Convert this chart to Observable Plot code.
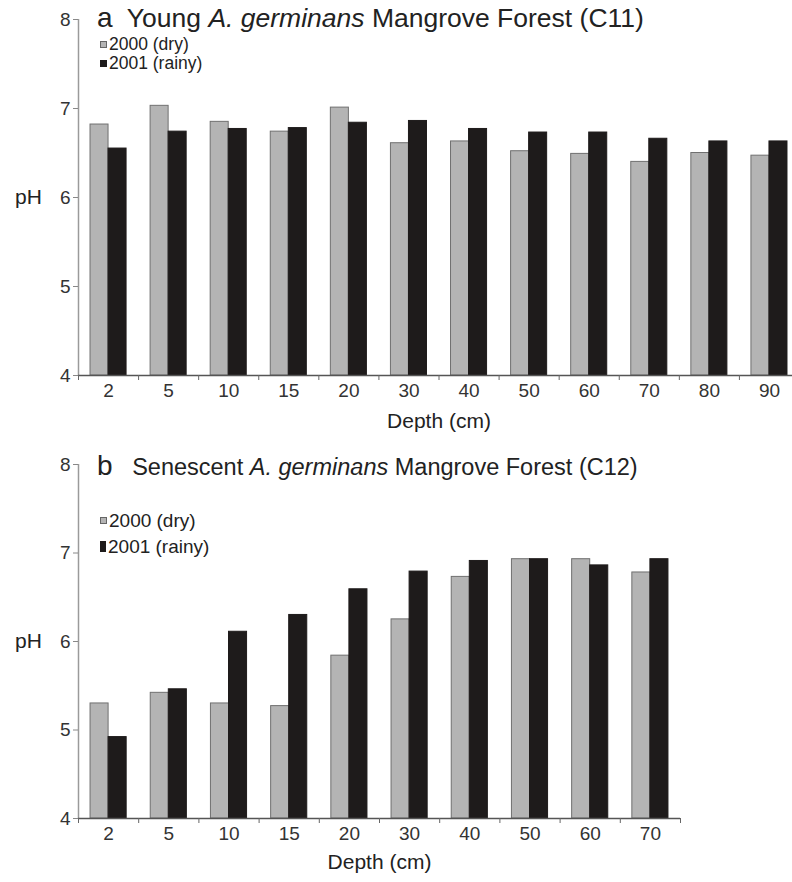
<!DOCTYPE html>
<html><head><meta charset="utf-8">
<script src="https://cdn.jsdelivr.net/npm/d3@7"></script>
<script src="https://cdn.jsdelivr.net/npm/@observablehq/plot@0.6"></script>
<style>
body{margin:0;background:#fff;font-family:"Liberation Sans",Arial,sans-serif;overflow:hidden;width:792px;height:882px}
.panel{position:relative;width:792px;}
.title{position:absolute;white-space:nowrap;color:#222;}
.leg{position:absolute;white-space:nowrap;font-size:17.5px;color:#222;line-height:17px;}
.sw{display:inline-block;box-sizing:border-box;margin-right:2px;vertical-align:middle;position:relative;top:-1px}
</style></head><body>
<div id="a" class="panel"></div>
<div id="b" class="panel"></div>
<script>
const depthsA = ["2","5","10","15","20","30","40","50","60","70","80","90"];
const dryA   = [6.82,7.03,6.85,6.74,7.01,6.61,6.63,6.52,6.49,6.40,6.50,6.47];
const rainyA = [6.55,6.74,6.77,6.78,6.84,6.86,6.77,6.73,6.73,6.66,6.63,6.63];
const depthsB = ["2","5","10","15","20","30","40","50","60","70"];
const dryB   = [5.30,5.42,5.30,5.27,5.84,6.25,6.73,6.93,6.93,6.78];
const rainyB = [4.92,5.46,6.11,6.30,6.59,6.79,6.91,6.93,6.86,6.93];
const yTicks = [4,5,6,7,8];
const seriesLabels = ["2000 (dry)","2001 (rainy)"];
const yLabel = "pH";
const xLabel = "Depth (cm)";

const FONT = '"Liberation Sans", Arial, sans-serif';
const GRAY = "#b4b4b4", GRAY_EDGE = "#707070", BLACK = "#1e1b1b";

function panel(depths, dry, rainy, o) {
  const n = depths.length;
  const rows = depths.map((d, i) => ({i, depth: d, dry: dry[i], rainy: rainy[i]}));
  const w = 0.3;
  return Plot.plot({
    width: 792, height: o.height,
    marginLeft: 78, marginRight: o.marginRight, marginTop: o.marginTop, marginBottom: o.marginBottom,
    x: {type: "linear", domain: [-0.5, n - 0.5]},
    y: {domain: [4, 8]},
    style: {fontFamily: FONT, fontSize: "19px", color: "#222", background: "transparent", overflow: "visible"},
    marks: [
      Plot.rect(rows, {x1: d => d.i - w, x2: d => d.i, y1: () => 4, y2: "dry", fill: GRAY, stroke: GRAY_EDGE, strokeWidth: 1}),
      Plot.rect(rows, {x1: d => d.i, x2: d => d.i + w, y1: () => 4, y2: "rainy", fill: BLACK, stroke: BLACK, strokeWidth: 1}),
      Plot.ruleX([-0.5], {y1: () => 4, y2: () => 8, stroke: "#9a9a9a", strokeWidth: 1.5}),
      Plot.axisY({ticks: yTicks, tickSize: 5, tickPadding: 3, tickFormat: d => String(d), label: null, stroke: "#888", fill: "#333", fontSize: 19}),
      Plot.ruleY([4], {stroke: "#555", strokeWidth: 1.5}),
      Plot.axisX({ticks: d3.range(n + 1).map(k => k - 0.5), tickSize: 5, tickFormat: () => "", stroke: "#666", label: null}),
      Plot.axisX({ticks: d3.range(n), tickSize: 0, tickPadding: 8, tickFormat: i => depths[i], label: null, fill: "#333", fontSize: 19}),
      Plot.text([yLabel], {text: d => d, frameAnchor: "left", textAnchor: "middle", dx: -50, fontSize: 21, fill: "#222"}),
      Plot.text([xLabel], {text: d => d, frameAnchor: "bottom", dy: o.xLabelDy, fontSize: 21, fill: "#222"})
    ]
  });
}

function swatch(color, edge, wpx, hpx) {
  return `<span class="sw" style="width:${wpx}px;height:${hpx}px;background:${color};border:1px solid ${edge}"></span>`;
}

// Panel a
const elA = document.getElementById("a");
elA.appendChild(panel(depthsA, dryA, rainyA, {height: 445, marginTop: 19, marginBottom: 70, marginRight: -7, xLabelDy: 52}));
elA.insertAdjacentHTML("beforeend",
  `<div class="title" style="left:97px;top:5px;font-size:26.5px;line-height:26px"><span style="font-size:28px">a</span>&nbsp; Young <i>A. germinans</i> Mangrove Forest (C11)</div>
   <div class="leg" style="left:100px;top:36px">${swatch(GRAY, "#666", 7, 7)}${seriesLabels[0]}</div>
   <div class="leg" style="left:100px;top:55px">${swatch(BLACK, BLACK, 7, 7)}${seriesLabels[1]}</div>`);

// Panel b
const elB = document.getElementById("b");
elB.appendChild(panel(depthsB, dryB, rainyB, {height: 437, marginTop: 19, marginBottom: 64, marginRight: 112, xLabelDy: 50}));
elB.insertAdjacentHTML("beforeend",
  `<div class="title" style="left:97px;top:8px;font-size:23.5px;line-height:26px"><span style="font-size:28px">b</span>&nbsp;&nbsp;&nbsp;Senescent <i>A. germinans</i> Mangrove Forest (C12)</div>
   <div class="leg" style="left:100px;top:67px;font-size:19px;line-height:18px">${swatch(GRAY, "#666", 7, 7)}${seriesLabels[0]}</div>
   <div class="leg" style="left:100px;top:93px;font-size:19px;line-height:18px">${swatch(BLACK, BLACK, 6, 11)}${seriesLabels[1]}</div>`);
</script>
</body></html>
